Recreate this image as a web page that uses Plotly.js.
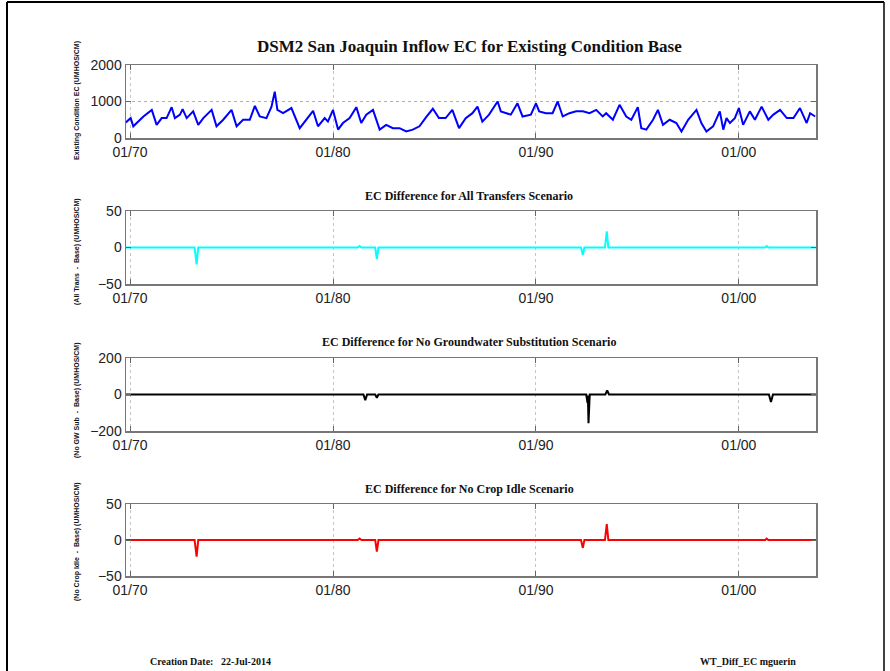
<!DOCTYPE html>
<html>
<head>
<meta charset="utf-8">
<script src="https://cdn.plot.ly/plotly-3.0.1.min.js"></script>
<style>html,body{margin:0;padding:0;background:#fff;}#chart{width:890px;height:671px;}</style>
</head>
<body>
<div id="chart"></div>
<script>
// ---- Data (decimal years, values in UMHOS/CM) ----
const baseYears = [1969.75,1969.84,1970.03,1970.16,1970.66,1971.07,1971.31,1971.56,1971.80,1972.05,1972.21,1972.46,1972.59,1972.79,1973.11,1973.36,1973.61,1974.02,1974.26,1974.59,1975.00,1975.25,1975.57,1975.90,1976.15,1976.39,1976.72,1976.97,1977.13,1977.26,1977.54,1977.95,1978.36,1978.69,1979.02,1979.26,1979.59,1979.75,1980.00,1980.25,1980.49,1980.82,1981.15,1981.39,1981.64,1981.97,1982.30,1982.62,1982.95,1983.28,1983.61,1983.93,1984.26,1984.59,1984.92,1985.22,1985.55,1985.88,1986.21,1986.54,1986.87,1987.12,1987.36,1987.69,1988.11,1988.27,1988.52,1988.76,1989.09,1989.34,1989.75,1990.00,1990.16,1990.49,1990.82,1991.07,1991.32,1991.65,1991.98,1992.31,1992.64,1992.97,1993.29,1993.46,1993.79,1994.12,1994.45,1994.70,1995.02,1995.19,1995.44,1995.77,1996.01,1996.26,1996.59,1996.92,1997.17,1997.50,1997.91,1998.15,1998.40,1998.73,1999.06,1999.23,1999.39,1999.56,1999.80,2000.00,2000.21,2000.54,2000.79,2001.12,2001.45,2001.70,2002.03,2002.36,2002.69,2003.01,2003.34,2003.51,2003.76];
const baseEC = [420,450,545,320,590,770,360,545,545,845,545,640,790,545,730,360,545,770,320,500,770,320,500,500,880,590,545,860,1270,770,680,820,270,500,745,320,545,450,770,230,410,545,845,410,640,770,230,360,270,270,180,230,320,570,800,550,545,770,270,545,680,860,450,640,1000,730,680,640,950,590,640,950,730,680,680,1000,590,680,730,730,680,770,590,680,500,910,590,500,845,270,230,500,770,360,500,410,180,500,770,410,180,320,730,230,545,410,545,820,360,730,500,860,500,640,770,545,545,820,410,680,590];

const allTransYears = [1969.75,1973.18,1973.28,1973.36,1981.22,1981.31,1981.40,1982.08,1982.16,1982.24,1992.22,1992.31,1992.39,1993.40,1993.49,1993.57,2001.30,2001.37,2001.45,2003.80];
const allTransDiff  = [0,0,-23,0,0,2,0,0,-16,0,0,-10,0,0,22,0,0,2,0,0];

const noGWYears = [1969.75,1981.50,1981.59,1981.68,1982.08,1982.16,1982.24,1992.48,1992.54,1992.56,1992.59,1992.65,1993.42,1993.51,1993.60,2001.48,2001.58,2001.68,2003.80];
const noGWDiff  = [0,0,-31,0,0,-18,0,0,-46,-5,-157,0,0,22,0,0,-41,0,0];

const noCropYears = [1969.75,1973.18,1973.28,1973.36,1981.22,1981.31,1981.40,1982.08,1982.16,1982.24,1992.22,1992.31,1992.39,1993.40,1993.49,1993.57,2001.30,2001.37,2001.45,2003.80];
const noCropDiff  = [0,0,-23,0,0,2,0,0,-16,0,0,-11,0,0,22,0,0,2,0,0];

const xTickVals = [1970,1980,1990,2000];
const xTickText = ['01/70','01/80','01/90','01/00'];

const mainTitle = 'DSM2 San Joaquin Inflow EC for Existing Condition Base';
const subTitles = ['EC Difference for All Transfers Scenario','EC Difference for No Groundwater Substitution Scenario','EC Difference for No Crop Idle Scenario'];
const yTitles = ['Existing Condition EC (UMHOS/CM)','(All Trans  -  Base) (UMHOS/CM)','(No GW Sub  -  Base) (UMHOS/CM)','(No Crop Idle  -  Base) (UMHOS/CM)'];
const footerLeft = 'Creation Date:   22-Jul-2014';
const footerRight = 'WT_Diff_EC mguerin';

// ---- Layout helpers ----
const W = 890, H = 671;
const px = v => v / W;
const py = v => 1 - v / H;
const xDom = [px(126), px(816)];
const panels = [ {top:65,bottom:138}, {top:211,bottom:284}, {top:358,bottom:431}, {top:504,bottom:576} ];
const yRanges = [[0,2000],[-50,50],[-200,200],[-50,50]];
const yTicks = [[0,1000,2000],[-50,0,50],[-200,0,200],[-50,0,50]];

const traces = [
  {x: baseYears, y: baseEC, line:{color:'#0000ff', width:2}},
  {x: allTransYears, y: allTransDiff, line:{color:'#00ffff', width:2}},
  {x: noGWYears, y: noGWDiff, line:{color:'#000000', width:2}},
  {x: noCropYears, y: noCropDiff, line:{color:'#ff0000', width:2}}
].map((t,i) => Object.assign(t, {type:'scatter', mode:'lines', xaxis: i===0?'x':'x'+(i+1), yaxis: i===0?'y':'y'+(i+1), showlegend:false, hoverinfo:'skip'}));

const layout = {
  width: W, height: H,
  margin: {l:0, r:0, t:0, b:0},
  paper_bgcolor: '#ffffff', plot_bgcolor: '#ffffff',
  showlegend: false,
  font: {family: 'Arial, Liberation Sans, sans-serif', color:'#222'},
  annotations: [], shapes: []
};

panels.forEach((p,i) => {
  const sx = i===0 ? '' : String(i+1);
  layout['xaxis'+sx] = {
    domain: xDom, anchor: 'y'+sx, range: [1969.8, 2003.8],
    tickmode: 'array', tickvals: xTickVals, ticktext: xTickText,
    ticks: 'inside', ticklen: 5, tickcolor: '#666',
    showline: true, linecolor: '#777', linewidth: 1.5, mirror: 'ticks',
    showgrid: true, gridcolor: '#c4c4c4', griddash: 'dot', gridwidth: 1,
    zeroline: false, tickfont: {family:'Arial, Liberation Sans', size: 14, color:'#222'},
    ticklabelstandoff: 1,
    fixedrange: true
  };
  layout['yaxis'+sx] = {
    domain: [py(p.bottom), py(p.top)], anchor: 'x'+sx, range: yRanges[i],
    tickmode: 'array', tickvals: yTicks[i],
    ticks: 'inside', ticklen: 5, tickcolor: '#666',
    showline: true, linecolor: '#777', linewidth: 1.5, mirror: 'ticks',
    showgrid: i===0, gridcolor: '#b0b0b0', griddash: 'dot', gridwidth: 1,
    zeroline: false, tickfont: {family:'Arial, Liberation Sans', size: 14, color:'#222'},
    fixedrange: true
  };
});

// Titles
layout.annotations.push({text:'<b>'+mainTitle+'</b>', xref:'paper', yref:'paper', x:px(470), y:py(47), xanchor:'center', yanchor:'middle', showarrow:false, font:{family:'Liberation Serif, Times New Roman, serif', size:17, color:'#111'}});
const subY = [196,342,489];
subTitles.forEach((s,i) => layout.annotations.push({text:'<b>'+s+'</b>', xref:'paper', yref:'paper', x:px(469), y:py(subY[i]), xanchor:'center', yanchor:'middle', showarrow:false, font:{family:'Liberation Serif, Times New Roman, serif', size:12, color:'#111'}}));
const yTitleY = [101,252,400,542];
yTitles.forEach((s,i) => layout.annotations.push({text:'<b>'+s+'</b>', xref:'paper', yref:'paper', x:px(77), y:py(yTitleY[i]), xanchor:'center', yanchor:'middle', textangle:-90, showarrow:false, font:{family:'Liberation Sans Narrow, Arial, sans-serif', size:7, color:'#111'}}));
layout.annotations.push({text:'<b>'+footerLeft+'</b>', xref:'paper', yref:'paper', x:px(148), y:py(661), xanchor:'left', yanchor:'middle', showarrow:false, font:{family:'Liberation Serif, serif', size:10, color:'#111'}});
layout.annotations.push({text:'<b>'+footerRight+'</b>', xref:'paper', yref:'paper', x:px(698), y:py(661), xanchor:'left', yanchor:'middle', showarrow:false, font:{family:'Liberation Serif, serif', size:10, color:'#111'}});

// Page frame
layout.shapes.push({type:'line', xref:'paper', yref:'paper', x0:px(7), x1:px(7), y0:-0.05, y1:py(2), line:{color:'#000', width:2}});
layout.shapes.push({type:'line', xref:'paper', yref:'paper', x0:px(7), x1:px(884), y0:py(2), y1:py(2), line:{color:'#000', width:2}});
layout.shapes.push({type:'line', xref:'paper', yref:'paper', x0:px(884), x1:px(884), y0:-0.05, y1:py(2), line:{color:'#000', width:1.5}});

Plotly.newPlot('chart', traces, layout, {staticPlot:true, displayModeBar:false});
</script>
</body>
</html>
